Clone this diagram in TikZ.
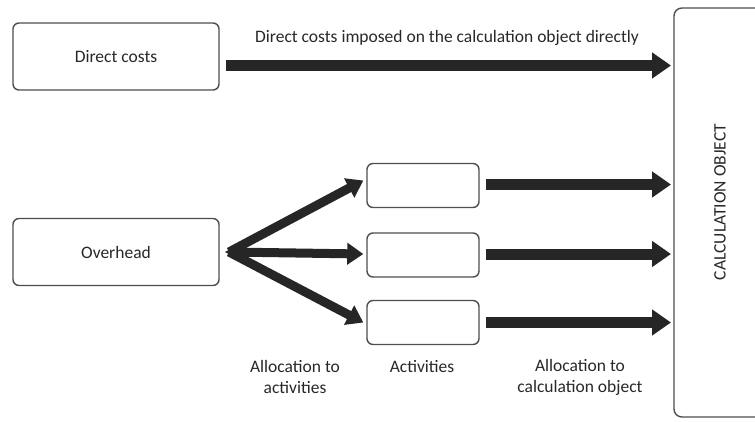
\documentclass[tikz,border=0pt]{standalone}
\usepackage{fontspec}
\setmainfont{Carlito}
\usetikzlibrary{arrows.meta,calc}
\definecolor{boxline}{HTML}{4F4F4F}
\definecolor{arrowfill}{HTML}{262626}
\definecolor{txt}{HTML}{282828}
\begin{document}
\begin{tikzpicture}[x=1pt,y=-1pt,
  costbox/.style={draw=boxline,line width=1.4pt,rounded corners=6pt,fill=white,
    minimum width=206pt,minimum height=67pt,inner sep=0pt,text=txt,font=\fontsize{17.5}{20}\selectfont},
  actbox/.style={draw=boxline,line width=1.4pt,rounded corners=6pt,fill=white,
    minimum width=112pt,minimum height=44pt,inner sep=0pt},
  bigarrow/.style={draw=arrowfill,line width=11pt,-{Triangle[width=25pt,length=19pt]}},
  fanarrow/.style={draw=arrowfill,line width=9pt,-{Triangle[width=21pt,length=16pt]}},
  caption/.style={text=txt,font=\fontsize{17.5}{21}\selectfont,align=center,inner sep=0pt}]
\clip (0,0) rectangle (755,421);
\fill[white] (0,0) rectangle (755,421);

% source boxes
\node[costbox] (dc) at (116,56.5) {Direct costs};
\node[costbox] (oh) at (116,252) {Overhead};

% activity boxes
\node[actbox] (a1) at (423,185.5) {};
\node[actbox] (a2) at (423,255) {};
\node[actbox] (a3) at (423,322.5) {};

% calculation object, its right side runs off the page
\draw[boxline,line width=1.4pt,rounded corners=8pt] (674,8) rectangle (790,417);
\node[text=txt,font=\fontsize{17.5}{20}\selectfont,rotate=90] (co) at (720,202) {CALCULATION OBJECT};
\coordinate (coW) at (671,212);

% direct costs straight to the calculation object
\coordinate (dcS) at (226,65.5);
\draw[bigarrow] (dcS) -- (dcS -| coW);
\node[caption] (dclabel) at (447,38) {Direct costs imposed on the calculation object directly};

% overhead fanned out to the activities
\coordinate (ohS) at (229,252);
\draw[fanarrow] (ohS) -- ($(a1.west)+(-3,-5)$);
\draw[fanarrow] (ohS) -- ($(a2.west)+(-3,-1)$);
\draw[fanarrow] (ohS) -- ($(a3.west)+(-3,0)$);
\fill[arrowfill] (225,252) -- (236,246) -- (236,258) -- cycle;

% activities to the calculation object
\coordinate (a1S) at ($(a1.east)+(6,-1)$);
\coordinate (a2S) at ($(a2.east)+(6,-1)$);
\coordinate (a3S) at ($(a3.east)+(6,0)$);
\draw[bigarrow] (a1S) -- (a1S -| coW);
\draw[bigarrow] (a2S) -- (a2S -| coW);
\draw[bigarrow] (a3S) -- (a3S -| coW);

% captions under the columns
\node[caption] (l1) at (295,377) {Allocation to\\activities};
\node[caption] (l2) at (422,367) {Activities};
\node[caption] (l3) at (580,377) {Allocation to\\calculation object};
\end{tikzpicture}
\end{document}
